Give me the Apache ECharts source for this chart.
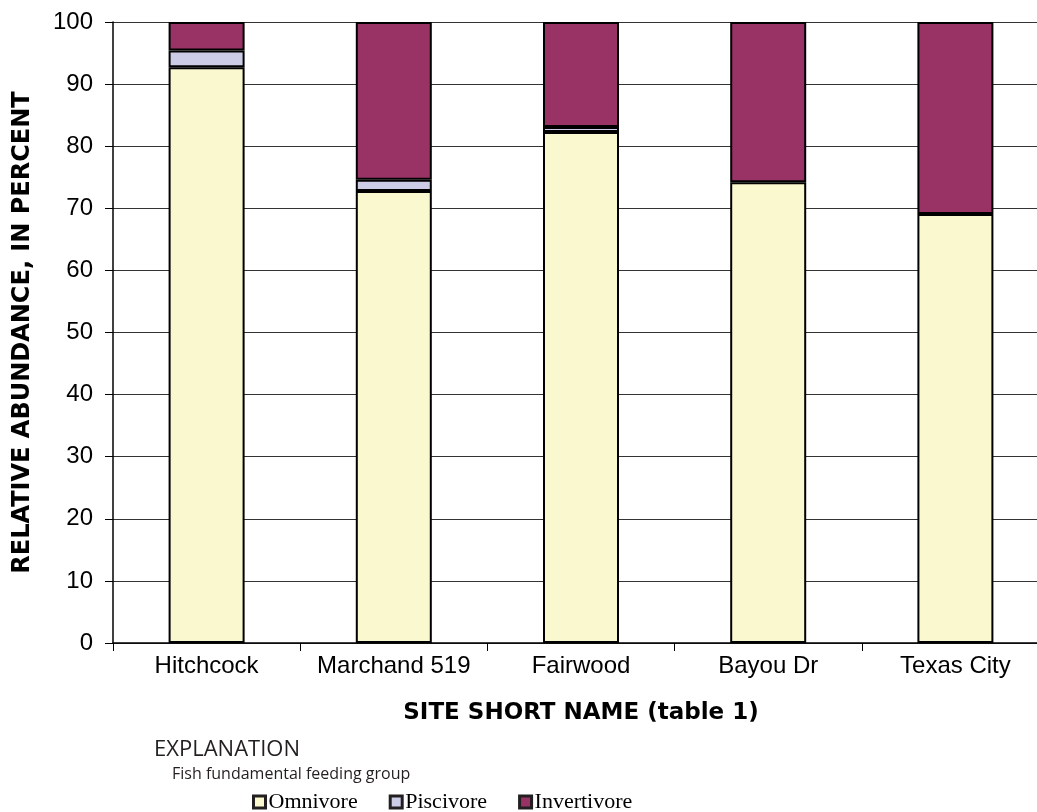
<!DOCTYPE html>
<html>
<head>
<meta charset="utf-8">
<script src="https://cdn.jsdelivr.net/npm/echarts@6/dist/echarts.min.js"></script>
<style>
  html, body { margin: 0; padding: 0; background: #fff; }
  #chart { width: 1037px; height: 812px; }
</style>
</head>
<body>
<div id="chart"></div>
<script>
// sites along the x axis
const sites = ["Hitchcock", "Marchand 519", "Fairwood", "Bayou Dr", "Texas City"];
// relative abundance, percent
const omnivore = [92.7, 72.8, 82.3, 74.2, 69.1];
const piscivore = [2.7, 1.8, 0.8, 0, 0];
const invertivore = [4.6, 25.4, 16.9, 25.8, 30.9];
const yTicks = [0, 10, 20, 30, 40, 50, 60, 70, 80, 90, 100];

const chart = echarts.init(document.getElementById("chart"));

function barSeries(name, data, color) {
  return {
    name: name,
    type: "bar",
    stack: "total",
    // a zero share draws nothing (no border line)
    data: data.map(v => v === 0 ? "-" : v),
    barWidth: 76,
    itemStyle: { color: color, borderColor: "#000", borderWidth: 2 }
  };
}

chart.setOption({
  animation: false,
  title: [
    {
      text: "EXPLANATION",
      left: 154, top: 739, padding: 0,
      textStyle: { fontFamily: "Open Sans", fontWeight: "normal", fontSize: 22, color: "#231f20" }
    },
    {
      text: "Fish fundamental feeding group",
      left: 172, top: 766, padding: 0,
      textStyle: { fontFamily: "Open Sans", fontWeight: "normal", fontSize: 16, color: "#231f20" }
    }
  ],
  legend: {
    left: 247, top: 786,
    itemWidth: 12, itemHeight: 12, itemGap: 31,
    icon: "rect",
    itemStyle: { borderColor: "#231f20", borderWidth: 3 },
    textStyle: { fontFamily: "Liberation Serif", fontSize: 22, color: "#000", padding: [0, 0, 0, -2] },
    data: ["Omnivore", "Piscivore", "Invertivore"]
  },
  // the plot runs past the right edge of the picture, as in the original
  grid: { left: 113, right: -12, top: 22, bottom: 169, outerBoundsMode: "none" },
  xAxis: {
    type: "category",
    data: sites,
    name: "SITE SHORT NAME (table 1)",
    nameLocation: "middle",
    nameGap: 59,
    nameTextStyle: { fontFamily: "DejaVu Sans", fontWeight: "bold", fontSize: 23, color: "#000" },
    axisLine: { lineStyle: { color: "#000", width: 1.5 } },
    axisTick: { show: true, length: 8, lineStyle: { color: "#000" } },
    axisLabel: { interval: 0, fontFamily: "Liberation Sans", fontSize: 24, color: "#000", margin: 11 }
  },
  yAxis: {
    type: "value",
    min: 0, max: 100, interval: 10,
    name: "RELATIVE ABUNDANCE, IN PERCENT",
    nameLocation: "middle",
    nameGap: 78,
    nameTextStyle: { fontFamily: "DejaVu Sans", fontWeight: "bold", fontSize: 24, color: "#000" },
    axisLine: { show: true, lineStyle: { color: "#000", width: 1.5 } },
    axisTick: { show: true, length: 8, lineStyle: { color: "#000" } },
    axisLabel: {
      fontFamily: "Liberation Sans", fontSize: 24, color: "#000", margin: 20,
      formatter: v => yTicks.includes(v) ? String(v) : ""
    },
    splitLine: { show: true, lineStyle: { color: "#333", width: 1.2 } }
  },
  series: [
    barSeries("Omnivore", omnivore, "#faf8cf"),
    barSeries("Piscivore", piscivore, "#cdcce6"),
    barSeries("Invertivore", invertivore, "#993366")
  ]
});
</script>
</body>
</html>
